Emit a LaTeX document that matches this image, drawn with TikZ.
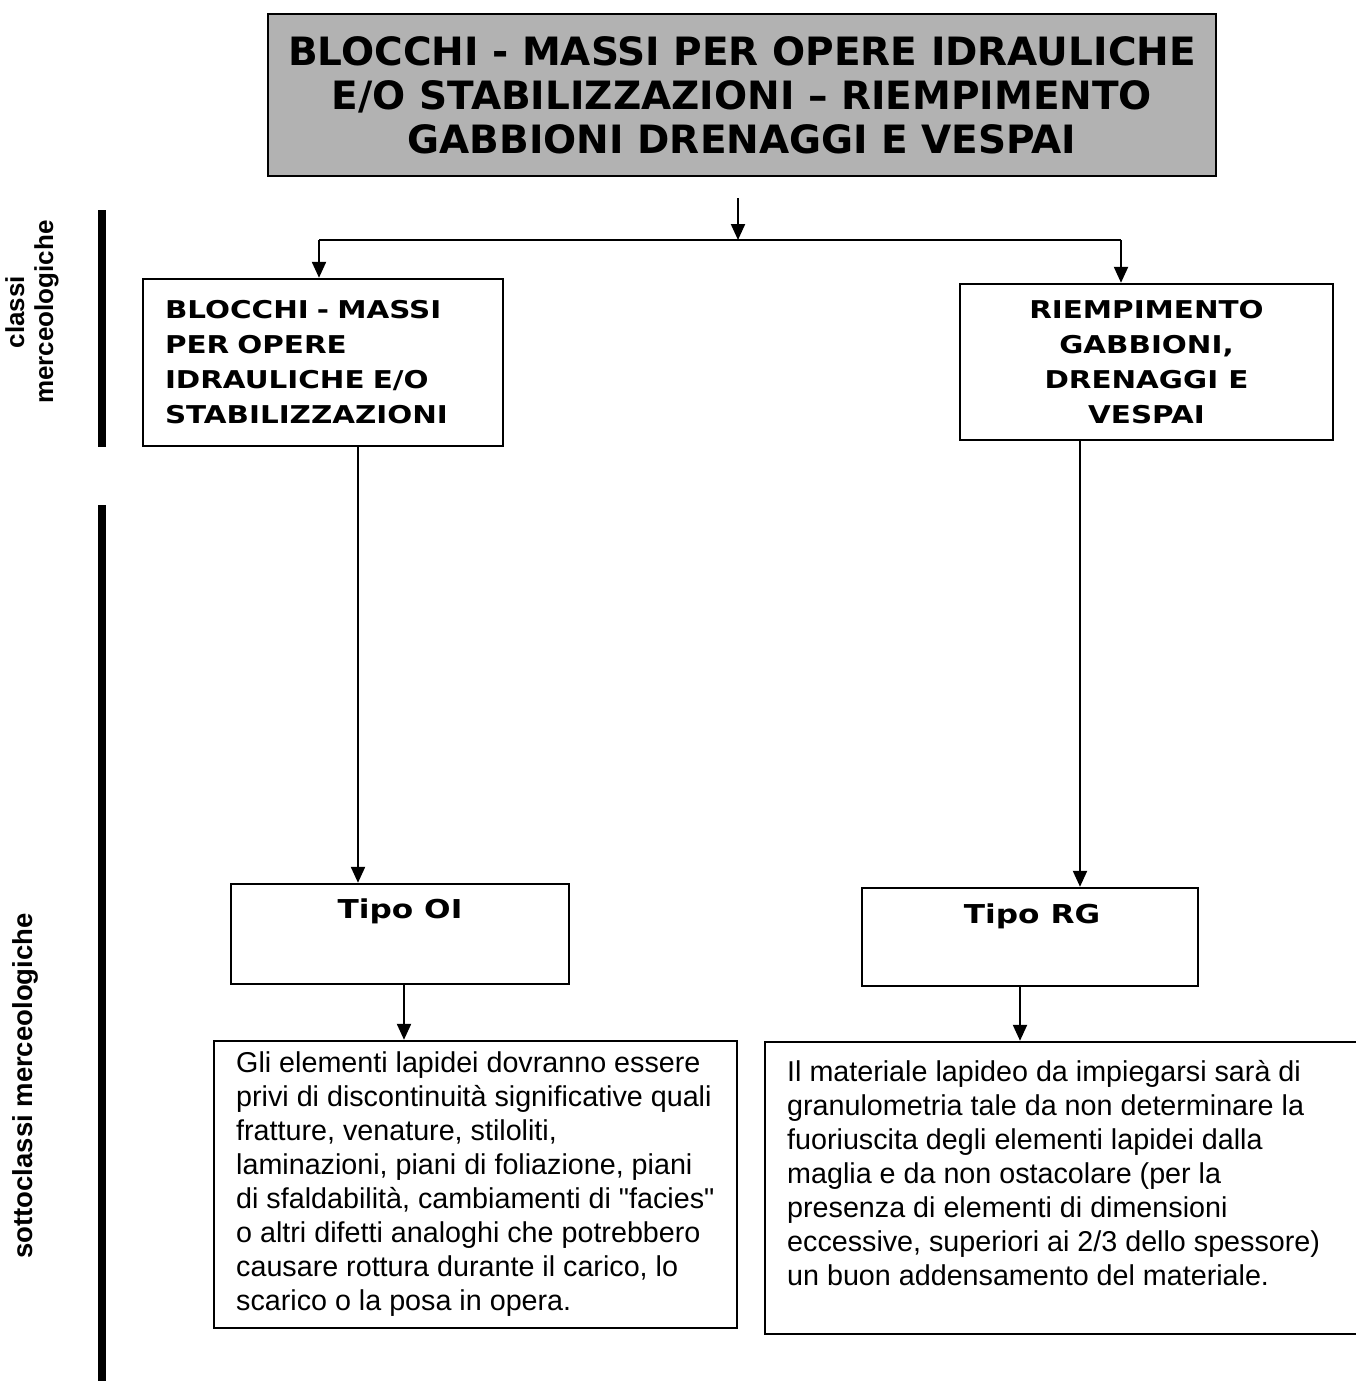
\documentclass[tikz,border=0pt]{standalone}
\usepackage{fontspec}
\setmainfont{Liberation Sans}
\newfontfamily\arial{Liberation Sans}
\newfontfamily\verd[FakeStretch=1.2]{DejaVu Sans}
\newfontfamily\verdt{DejaVu Sans}
\usetikzlibrary{arrows.meta}
\tikzset{
  box/.style={draw, line width=2.4pt, inner sep=0pt},
  conn/.style={line width=2.2pt},
  arr/.style={line width=2.2pt, -{Triangle[length=16pt,width=14pt]}},
  bar/.style={line width=8pt},
  titlefont/.style={font=\verdt\bfseries\fontsize{39}{44}\selectfont},
  classfont/.style={font=\verd\bfseries\fontsize{24.5}{35}\selectfont},
  tipofont/.style={font=\verd\bfseries\fontsize{26}{30}\selectfont},
  bodyfont/.style={font=\arial\fontsize{28.7}{34}\selectfont},
  sidefont/.style={font=\bfseries\fontsize{26}{29}\selectfont},
}
\begin{document}
\begin{tikzpicture}[x=1pt,y=-1pt]
\useasboundingbox (0,0) rectangle (1356,1381);

% title
\node[box, fill=black!30, minimum width=948, minimum height=162, align=center, titlefont]
  (T) at (742,95) {BLOCCHI - MASSI PER OPERE IDRAULICHE\\E/O STABILIZZAZIONI – RIEMPIMENTO\\GABBIONI DRENAGGI E VESPAI};

% class boxes
\node[box, minimum width=360, minimum height=167, text width=316, inner xsep=22pt, align=left, classfont]
  (A) at (323,362.5) {BLOCCHI - MASSI\\PER OPERE\\IDRAULICHE E/O\\STABILIZZAZIONI};
\node[box, minimum width=373, minimum height=156, align=center, classfont]
  (B) at (1146.5,362) {RIEMPIMENTO\\GABBIONI,\\DRENAGGI E\\VESPAI};

% tipo boxes
\node[box, minimum width=338, minimum height=100] (C) at (400,934) {};
\node[tipofont] (Ct) at (400,911) {Tipo OI};
\node[box, minimum width=336, minimum height=98] (D) at (1030,937) {};
\node[tipofont] (Dt) at (1032,916) {Tipo RG};

% description boxes
\node[box, minimum width=523, minimum height=287] (E) at (475.5,1184.5) {};
\node[bodyfont, anchor=north west, inner sep=0pt, align=left] (Et) at (236,1051)
  {Gli elementi lapidei dovranno essere\\privi di discontinuità significative quali\\fratture, venature, stiloliti,\\laminazioni, piani di foliazione, piani\\di sfaldabilità, cambiamenti di "facies"\\o altri difetti analoghi che potrebbero\\causare rottura durante il carico, lo\\scarico o la posa in opera.};
\node[box, minimum width=625, minimum height=292] (F) at (1077.5,1188) {};
\node[bodyfont, anchor=north west, inner sep=0pt, align=left] (Ft) at (787,1060)
  {Il materiale lapideo da impiegarsi sarà di\\granulometria tale da non determinare la\\fuoriuscita degli elementi lapidei dalla\\maglia e da non ostacolare (per la\\presenza di elementi di dimensioni\\eccessive, superiori ai 2/3 dello spessore)\\un buon addensamento del materiale.};

% connectors
\coordinate (j0) at (738,198);
\coordinate (jn) at (738,240);
\coordinate (jl) at (319,240);
\coordinate (jr) at (1121,240);
\draw[conn] (jl) -- (jr);
\draw[arr] (j0) -- (jn);
\draw[arr] (jl) -- (jl |- A.north);
\draw[arr] (jr) -- (jr |- B.north);
\draw[arr] ([xshift=35pt]A.south) -- ([xshift=35pt]A.south |- C.north);
\draw[arr] ([xshift=-66.5pt]B.south) -- ([xshift=-66.5pt]B.south |- D.north);
\draw[arr] ([xshift=4pt]C.south) -- ([xshift=4pt]C.south |- E.north);
\draw[arr] ([xshift=-10pt]D.south) -- ([xshift=-10pt]D.south |- F.north);

% side labels and bars
\draw[bar] (102,210) -- (102,447);
\draw[bar] (102,505) -- (102,1381);
\node[rotate=90, align=center, sidefont] (L1) at (32,312) {classi\\merceologiche};
\node[rotate=90, font=\bfseries\fontsize{27.5}{30}\selectfont] (L2) at (25,1086) {sottoclassi merceologiche};
\end{tikzpicture}
\end{document}
